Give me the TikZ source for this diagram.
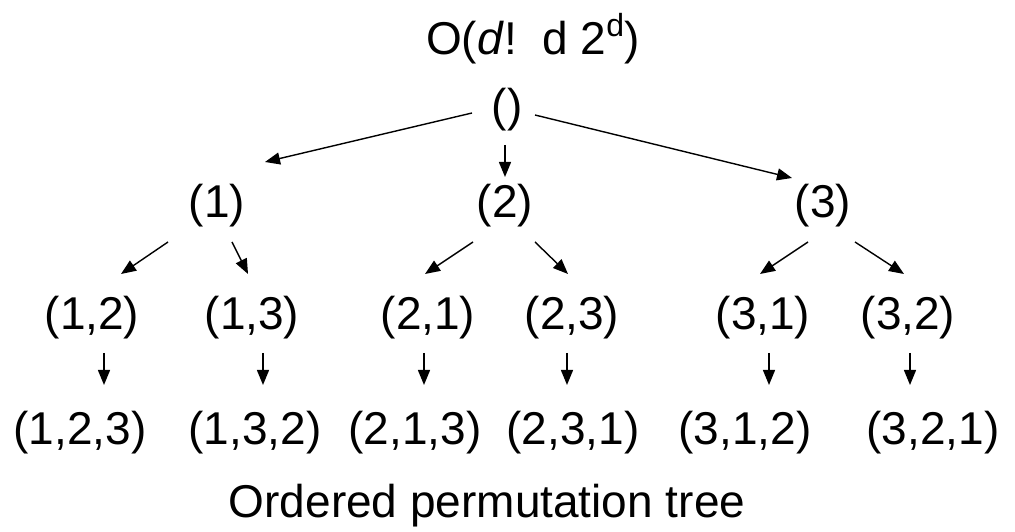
\documentclass[tikz,border=0pt]{standalone}
\usepackage{fontspec}
\setmainfont{Liberation Sans}
\usetikzlibrary{arrows.meta}
\tikzset{
  lbl/.style={inner sep=0pt, anchor=base, font=\fontsize{46}{50}\selectfont},
  arr/.style={line width=1.4pt, -{Triangle[length=15pt,width=12pt]}}
}
\begin{document}
\begin{tikzpicture}[x=1pt,y=1pt]
\useasboundingbox (0,0) rectangle (1015,532);
% title
\node[lbl, anchor=base west] (title) at (426,477) {O(\textit{d}!\ \ d 2{\fontsize{32}{32}\selectfont\raisebox{18pt}{d}})};
% root and levels
\node[lbl] (r) at (507,410) {()};
\node[lbl] (n1) at (217,314) {(1)};
\node[lbl] (n2) at (505,314) {(2)};
\node[lbl] (n3) at (823,314) {(3)};
\node[lbl] (n12) at (92,202) {(1,2)};
\node[lbl] (n13) at (252,202) {(1,3)};
\node[lbl] (n21) at (428,202) {(2,1)};
\node[lbl] (n23) at (572,202) {(2,3)};
\node[lbl] (n31) at (763,202) {(3,1)};
\node[lbl] (n32) at (908,202) {(3,2)};
\node[lbl] (n123) at (80,87) {(1,2,3)};
\node[lbl] (n132) at (255,87) {(1,3,2)};
\node[lbl] (n213) at (415,87) {(2,1,3)};
\node[lbl] (n231) at (573,87) {(2,3,1)};
\node[lbl] (n312) at (745,87) {(3,1,2)};
\node[lbl] (n321) at (933,87) {(3,2,1)};
\node[lbl] (cap) at (487,14) {Ordered permutation tree};
% arrows level 0 -> 1
\draw[arr] ([shift={(-35,9)}]r.base) -- ([shift={(48,56)}]n1.base);
\draw[arr] ([shift={(-2,-23)}]r.base) -- ([shift={(0,41)}]n2.base);
\draw[arr] ([shift={(28,7)}]r.base) -- ([shift={(-31,40)}]n3.base);
% level 1 -> 2
\draw[arr] ([shift={(-49,-24)}]n1.base) -- ([shift={(29,56)}]n12.base);
\draw[arr] ([shift={(15,-24)}]n1.base) -- ([shift={(-4,56)}]n13.base);
\draw[arr] ([shift={(-32,-24)}]n2.base) -- ([shift={(-3,56)}]n21.base);
\draw[arr] ([shift={(30,-24)}]n2.base) -- ([shift={(-4,56)}]n23.base);
\draw[arr] ([shift={(-15,-24)}]n3.base) -- ([shift={(-3,56)}]n31.base);
\draw[arr] ([shift={(32,-24)}]n3.base) -- ([shift={(-4,56)}]n32.base);
% level 2 -> 3
\draw[arr] ([shift={(12,-23)}]n12.base) -- ([shift={(24,60)}]n123.base);
\draw[arr] ([shift={(11,-23)}]n13.base) -- ([shift={(8,60)}]n132.base);
\draw[arr] ([shift={(-4,-23)}]n21.base) -- ([shift={(9,60)}]n213.base);
\draw[arr] ([shift={(-5,-23)}]n23.base) -- ([shift={(-6,60)}]n231.base);
\draw[arr] ([shift={(6,-23)}]n31.base) -- ([shift={(24,60)}]n312.base);
\draw[arr] ([shift={(2,-23)}]n32.base) -- ([shift={(-23,60)}]n321.base);
\end{tikzpicture}
\end{document}
